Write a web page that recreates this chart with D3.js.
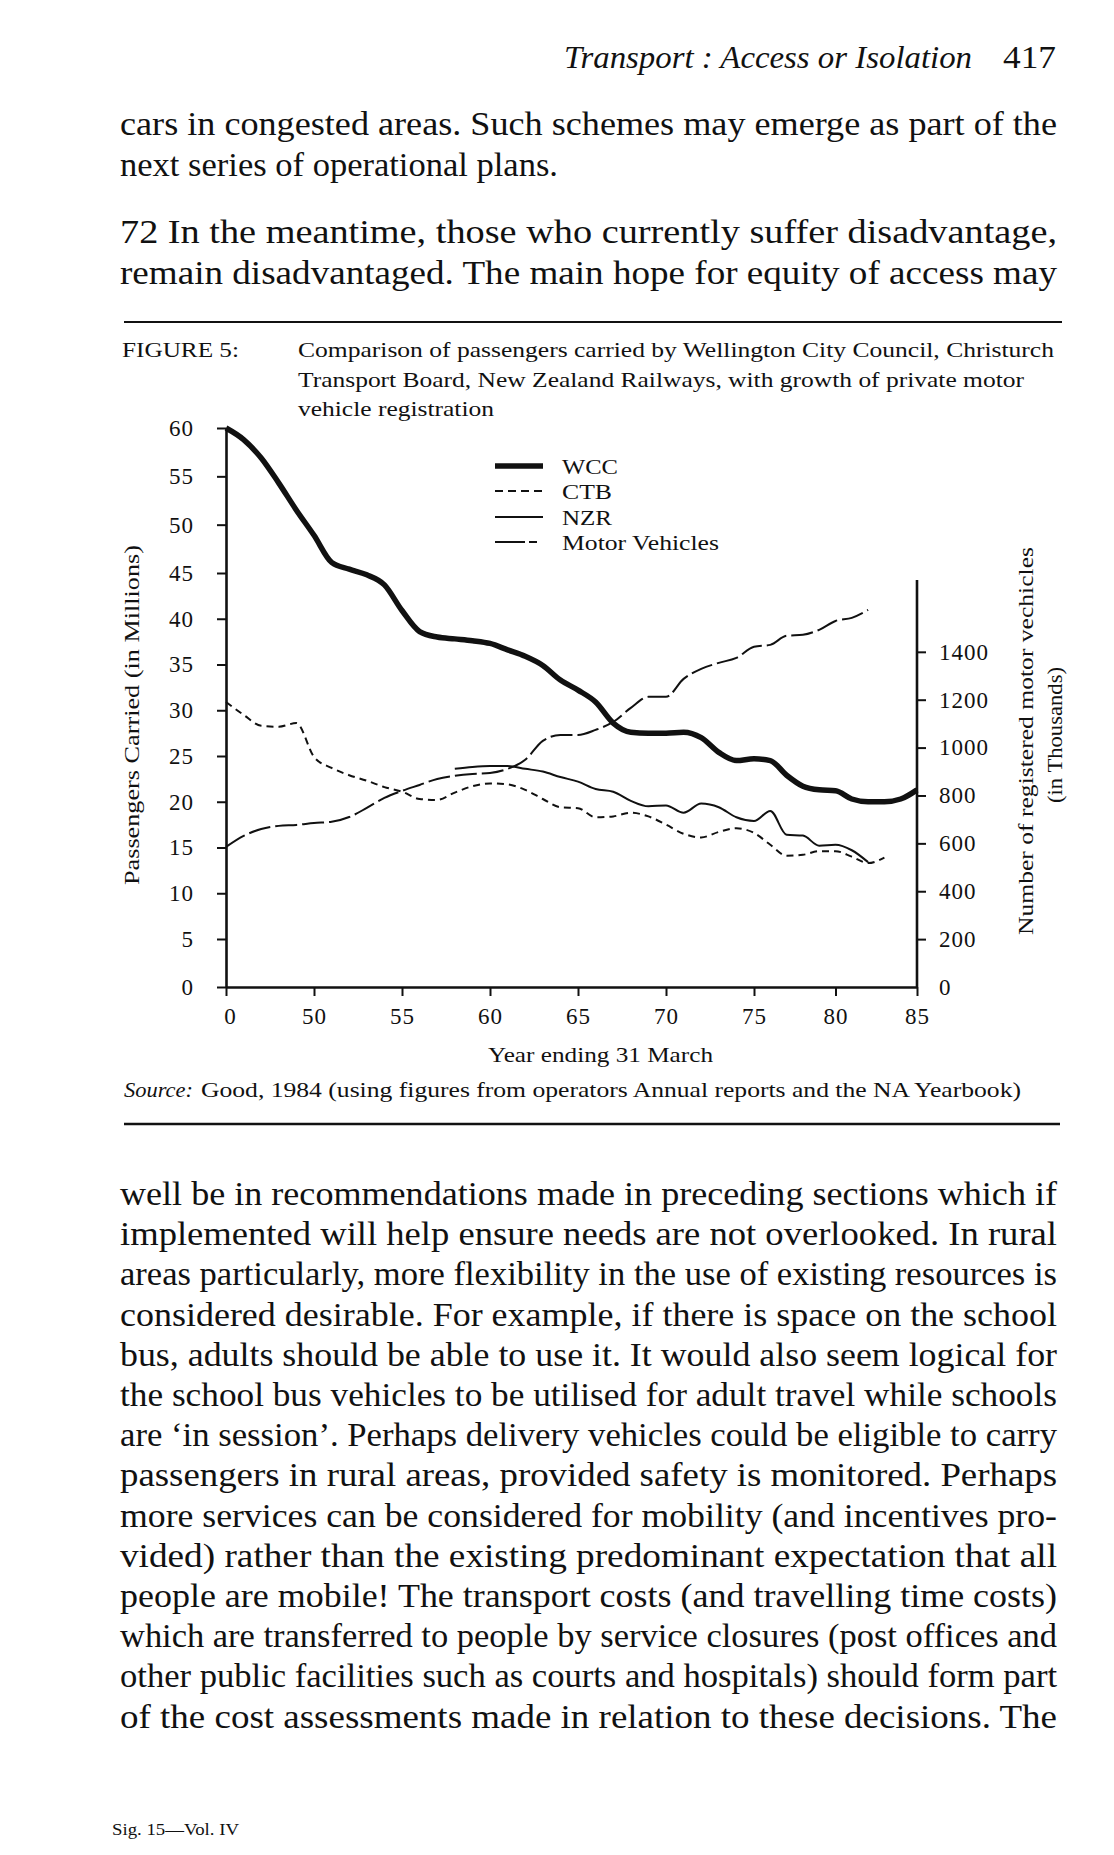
<!DOCTYPE html>
<html>
<head>
<meta charset="utf-8">
<script src="https://cdn.jsdelivr.net/npm/d3@7"></script>
<style>
  body { margin: 0; background: #fff; }
  svg { display: block; }
  svg text { font-family: "Liberation Serif", "Times New Roman", Times, serif; }
</style>
</head>
<body>
<div id="page"></div>
<script>
// year ending 31 March (the first position is labelled "0" on the axis)
const years = [45, 46, 47, 48, 49, 50, 51, 52, 53, 54, 55, 56, 57, 58, 59, 60, 61, 62, 63, 64,
               65, 66, 67, 68, 69, 70, 71, 72, 73, 74, 75, 76, 77, 78, 79, 80, 81, 82, 83, 84, 85]

// passengers carried, millions
const wcc = [60, 58.8, 56.9, 54.3, 51.5, 48.9, 46.1, 45.4, 44.8, 43.7, 40.9, 38.6, 38.0, 37.8, 37.6,
             37.3, 36.6, 35.9, 34.9, 33.3, 32.2, 30.9, 28.6, 27.6, 27.5, 27.5, 27.6, 27.0, 25.4, 24.5,
             24.7, 24.5, 22.9, 21.7, 21.3, 21.2, 20.3, 20.0, 20.0, 20.3, 21.3]
const ctb = [30.9, 29.5, 28.3, 28.2, 28.6, 24.9, 23.7, 22.9, 22.3, 21.6, 21.1, 20.3, 20.2, 21.0, 21.7,
             22.0, 21.9, 21.3, 20.3, 19.4, 19.3, 18.3, 18.4, 18.8, 18.4, 17.5, 16.5, 16.1, 16.7, 17.1,
             16.6, 15.3, 14.1, 14.2, 14.6, 14.6, 14.0, 13.3, 13.9, null, null]
const nzr = [null, null, null, null, null, null, null, null, null, null, null, null, null,
             23.6, 23.8, 23.9, 23.9, 23.6, 23.3, 22.7, 22.2, 21.4, 21.1, 20.1, 19.5, 19.6, 18.8,
             19.8, 19.4, 18.3, 17.9, 19.0, 16.4, 16.3, 15.2, 15.3, 14.7, 13.4, null, null, null]
// registered motor vehicles, thousands (right axis)
const motor = [585, 631, 660, 673, 677, 685, 690, 710, 748, 790, 819, 844, 869, 882, 890, 894, 911,
               949, 1028, 1053, 1053, 1074, 1107, 1166, 1212, 1212, 1287, 1329, 1354, 1375, 1421,
               1429, 1467, 1471, 1492, 1529, 1542, 1575, null, null, null]

const xTicks = [45, 50, 55, 60, 65, 70, 75, 80, 85]
const xTickLabels = ["0", "50", "55", "60", "65", "70", "75", "80", "85"]
const leftTicks = [0, 5, 10, 15, 20, 25, 30, 35, 40, 45, 50, 55, 60]
const rightTicks = [0, 200, 400, 600, 800, 1000, 1200, 1400]

const series = [
  { name: "WCC", values: wcc, axis: "left", width: 5.5, dash: null, key: null, label: 56 },
  { name: "CTB", values: ctb, axis: "left", width: 2, dash: "7,5", key: "8,5", label: 50 },
  { name: "NZR", values: nzr, axis: "left", width: 2, dash: null, key: null, label: 50 },
  { name: "Motor  Vehicles", values: motor, axis: "right", width: 2, dash: "22,5", key: "30,4,8", label: 157 }
]

const topLines = [
  "cars in congested areas. Such schemes may emerge as part of the",
  "next series of operational plans.",
  "72  In the meantime, those who currently suffer disadvantage,",
  "remain disadvantaged. The main hope for equity of access may"
]
const bottomLines = [
  "well be in recommendations made in preceding sections which if",
  "implemented will help ensure needs are not overlooked. In rural",
  "areas particularly, more flexibility in the use of existing resources is",
  "considered desirable. For example, if there is space on the school",
  "bus, adults should be able to use it. It would also seem logical for",
  "the school bus vehicles to be utilised for adult travel while schools",
  "are \u2018in session\u2019. Perhaps delivery vehicles could be eligible to carry",
  "passengers in rural areas, provided safety is monitored. Perhaps",
  "more services can be considered for mobility (and incentives pro-",
  "vided) rather than the existing predominant expectation that all",
  "people are mobile! The transport costs (and travelling time costs)",
  "which are transferred to people by service closures (post offices and",
  "other public facilities such as courts and hospitals) should form part",
  "of the cost assessments made in relation to these decisions. The"
]
const titleLines = [
  "Comparison of passengers carried by Wellington City Council, Christurch",
  "Transport Board, New Zealand Railways, with growth of private motor",
  "vehicle  registration"
]

const W = 1114, H = 1855

const svg = d3.select("#page")
  .append("svg")
  .attr("width", W)
  .attr("height", H)
  .attr("viewBox", [0, 0, W, H])

svg.append("rect").attr("width", W).attr("height", H).attr("fill", "#fff")

// ---- page text ----
function textLine(str, x, y, size, len, opts = {}) {
  const t = svg.append("text")
    .attr("x", x)
    .attr("y", y)
    .attr("font-size", size)
    .attr("fill", "#111")
    .text(str)
  if (len) t.attr("textLength", len).attr("lengthAdjust", "spacingAndGlyphs")
  if (opts.italic) t.attr("font-style", "italic")
  if (opts.anchor) t.attr("text-anchor", opts.anchor)
  return t
}

textLine("Transport : Access or Isolation", 564, 68, 31, 408, { italic: true })
textLine("417", 1003, 68, 31, 53)

const colL = 120, colW = 937
topLines.forEach((s, i) => {
  const y = [135, 176, 243, 284][i]
  textLine(s, colL, y, 33, i === 1 ? 438 : colW)
})
bottomLines.forEach((s, i) => {
  textLine(s, colL, 1205 + i * 40.2, 33, colW)
})
textLine("Sig. 15\u2014Vol. IV", 112, 1835, 17, 127)

// rules
svg.append("line").attr("x1", 124).attr("x2", 1062).attr("y1", 322).attr("y2", 322)
  .attr("stroke", "#111").attr("stroke-width", 2)
svg.append("line").attr("x1", 124).attr("x2", 1060).attr("y1", 1124).attr("y2", 1124)
  .attr("stroke", "#111").attr("stroke-width", 2.5)

// figure caption
textLine("FIGURE  5:", 122, 357, 21, 117)
titleLines.forEach((s, i) => {
  textLine(s, 298, 357 + i * 29.5, 21, [756, 726, 196][i])
})

// ---- chart ----
const x = d3.scaleLinear().domain([45, 75, 85]).range([226, 754, 917])
const yL = d3.scaleLinear().domain([0, 5, 45, 60]).range([987, 939, 573, 428])
const yR = d3.scaleLinear().domain([0, 1700]).range([987, 580])

const axisFont = 23

const gx = svg.append("g")
  .attr("transform", `translate(0,${yL(0)})`)
  .call(d3.axisBottom(x).tickValues(xTicks).tickSize(9).tickSizeOuter(0)
    .tickFormat((d, i) => xTickLabels[i]))
gx.selectAll("text").attr("y", 21).attr("dy", "0.71em")
gx.selectAll(".tick").filter(d => d === 45).select("text").attr("dx", 4)

const gl = svg.append("g")
  .attr("transform", `translate(${x(45)},0)`)
  .call(d3.axisLeft(yL).tickValues(leftTicks).tickSize(9).tickSizeOuter(0).tickPadding(23))

const gr = svg.append("g")
  .attr("transform", `translate(${x(85)},0)`)
  .call(d3.axisRight(yR).tickValues(rightTicks).tickSize(9).tickSizeOuter(0).tickPadding(13)
    .tickFormat(d3.format("d")))
gr.select(".domain").attr("d", `M0,${yR(0)}V${yR(1700)}`)

svg.selectAll(".tick line").attr("stroke", "#111").attr("stroke-width", 2)
svg.selectAll(".domain").attr("stroke", "#111").attr("stroke-width", 2.6)
svg.selectAll(".tick text")
  .attr("font-size", axisFont)
  .attr("letter-spacing", 1)
  .attr("fill", "#111")
// the right axis "0" has no tick mark
gr.selectAll(".tick").filter(d => d === 0).select("line").remove()

// axis titles
textLine("Year  ending  31  March", 488, 1062, 21, 225)
textLine("Source:", 124, 1097, 21, 69, { italic: true })
textLine("Good, 1984 (using figures from operators Annual reports and the NA Yearbook)", 201, 1097, 21, 820)

svg.append("text")
  .attr("transform", "translate(139,715) rotate(-90)")
  .attr("text-anchor", "middle")
  .attr("font-size", 22)
  .attr("textLength", 340)
  .attr("lengthAdjust", "spacingAndGlyphs")
  .attr("fill", "#111")
  .text("Passengers  Carried  (in  Millions)")

svg.append("text")
  .attr("transform", "translate(1033,741) rotate(-90)")
  .attr("text-anchor", "middle")
  .attr("font-size", 22)
  .attr("textLength", 388)
  .attr("lengthAdjust", "spacingAndGlyphs")
  .attr("fill", "#111")
  .text("Number  of  registered  motor  vechicles")

svg.append("text")
  .attr("transform", "translate(1062,735) rotate(-90)")
  .attr("text-anchor", "middle")
  .attr("font-size", 22)
  .attr("textLength", 136)
  .attr("lengthAdjust", "spacingAndGlyphs")
  .attr("fill", "#111")
  .text("(in  Thousands)")

// lines
series.forEach(s => {
  const y = s.axis === "left" ? yL : yR
  const line = d3.line()
    .defined((d, i) => s.values[i] !== null)
    .x((d, i) => x(years[i]))
    .y((d, i) => y(s.values[i]))
    .curve(d3.curveMonotoneX)

  svg.append("path")
    .datum(s.values)
    .attr("fill", "none")
    .attr("stroke", "#111")
    .attr("stroke-width", s.width)
    .attr("stroke-linejoin", "round")
    .attr("stroke-dasharray", s.dash)
    .attr("d", line)
})

// legend
const legend = svg.append("g").attr("transform", "translate(495,466)")
const lg = legend.selectAll("g")
  .data(series)
  .join("g")
  .attr("transform", (d, i) => `translate(0,${[0, 25, 51, 76][i]})`)

lg.append("line")
  .attr("x1", 0).attr("x2", 48)
  .attr("stroke", "#111")
  .attr("stroke-width", d => d.width)
  .attr("stroke-dasharray", d => d.key)

lg.append("text")
  .attr("x", 67)
  .attr("dy", "0.35em")
  .attr("font-size", 22)
  .attr("textLength", d => d.label)
  .attr("lengthAdjust", "spacingAndGlyphs")
  .attr("fill", "#111")
  .text(d => d.name)
</script>
</body>
</html>
